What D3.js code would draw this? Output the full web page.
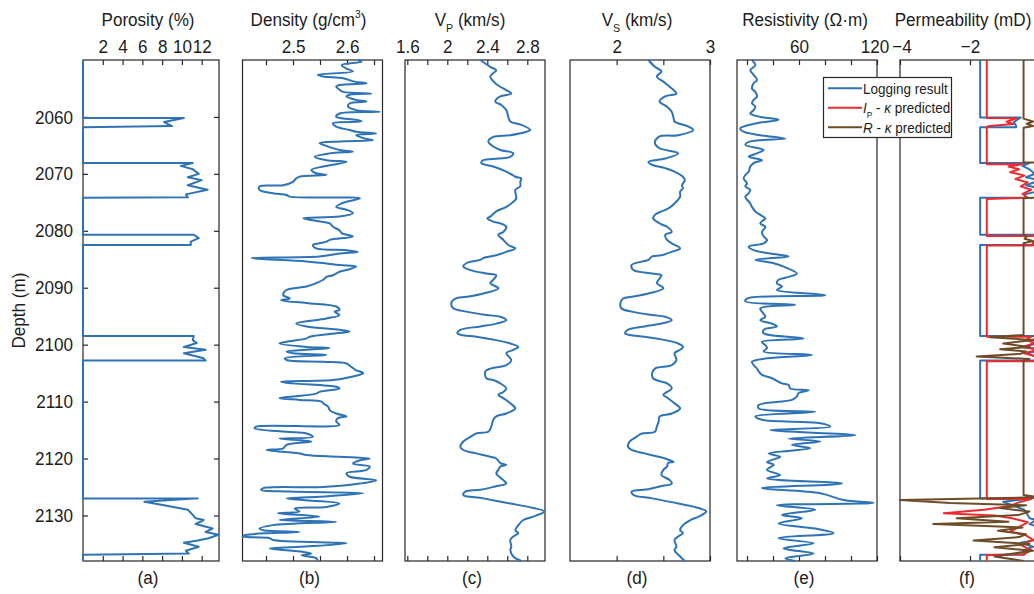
<!DOCTYPE html>
<html><head><meta charset="utf-8">
<script src="https://cdn.jsdelivr.net/npm/d3@7"></script>
<style>body{margin:0;background:#fff}svg{display:block}</style>
</head><body><script>
// ---------- well-log data: [depth (m), value] ----------
const depthRange = [2050, 2138];
const depthTicks = [2060, 2070, 2080, 2090, 2100, 2110, 2120, 2130];

const porosity = [
 [2050.0,0],[2060.2,0],[2060.2,10.2],[2060.9,8.2],[2061.6,9.0],[2061.8,0],
 [2068.1,0],[2068.1,11.1],[2068.6,9.9],[2069.2,11.1],[2070.0,11.7],[2070.6,10.6],[2071.1,12.0],[2072.0,10.6],[2072.8,12.6],[2073.6,10.4],[2074.1,10.6],[2074.2,0],
 [2080.7,0],[2080.7,11.2],[2081.3,11.7],[2081.9,10.9],[2082.5,10.9],[2082.5,0],
 [2098.5,0],[2098.5,11.2],[2099.2,11.1],[2099.7,11.5],[2100.4,10.2],[2100.9,12.4],[2101.5,10.2],[2102.4,12.2],[2102.8,12.4],[2102.8,0],
 [2127.0,0],[2127.0,11.6],[2127.6,6.2],[2128.2,8.2],[2129.0,10.6],[2129.9,11.1],[2130.5,11.4],[2130.8,12.2],[2131.5,11.4],[2132.3,13.1],[2132.9,12.4],[2133.4,13.7],[2134.0,12.7],[2134.4,11.6],[2134.8,10.2],[2135.5,11.7],[2136.2,10.4],[2136.7,10.7],[2136.9,0],
 [2138.0,0]
];

const density = [
 [2050.0,2.620],[2050.3,2.627],[2050.9,2.590],[2051.5,2.599],[2052.0,2.611],[2052.6,2.546],[2052.9,2.556],[2053.2,2.593],[2053.8,2.614],[2054.1,2.636],
 [2054.4,2.586],[2054.7,2.580],[2055.2,2.586],[2055.6,2.593],[2055.9,2.645],[2056.1,2.605],[2056.4,2.599],[2057.0,2.617],[2057.3,2.636],[2057.6,2.605],
 [2058.2,2.602],[2058.8,2.617],[2059.1,2.661],[2059.4,2.586],[2060.0,2.580],[2060.5,2.617],[2060.8,2.627],[2061.1,2.574],[2061.7,2.580],[2062.3,2.605],
 [2062.6,2.617],[2062.9,2.654],[2063.2,2.617],[2063.8,2.633],[2064.1,2.648],[2064.3,2.586],[2064.6,2.549],[2065.2,2.565],[2065.8,2.586],[2066.1,2.611],
 [2066.4,2.568],[2067.0,2.540],[2067.6,2.562],[2067.9,2.599],[2068.4,2.574],[2068.7,2.556],[2069.3,2.534],[2069.9,2.543],[2070.2,2.562],[2070.5,2.512],
 [2070.8,2.506],[2071.4,2.500],[2072.0,2.482],[2072.2,2.438],[2072.8,2.438],[2073.4,2.463],[2073.7,2.488],[2074.0,2.494],[2074.3,2.624],[2074.9,2.599],
 [2075.2,2.590],[2075.8,2.580],[2076.3,2.599],[2076.9,2.611],[2077.5,2.586],[2077.8,2.519],[2078.4,2.553],[2078.7,2.568],[2079.3,2.574],[2079.9,2.586],
 [2080.4,2.590],[2081.0,2.611],[2081.6,2.568],[2081.9,2.562],[2082.2,2.549],[2082.5,2.537],[2083.1,2.543],[2083.4,2.599],[2083.7,2.620],[2084.0,2.586],
 [2084.5,2.549],[2084.8,2.423],[2085.4,2.525],[2086.0,2.586],[2086.3,2.617],[2086.9,2.599],[2087.2,2.586],[2087.8,2.574],[2088.1,2.562],[2088.6,2.556],
 [2089.2,2.543],[2089.8,2.525],[2090.4,2.488],[2091.3,2.482],[2091.9,2.494],[2092.2,2.478],[2092.7,2.525],[2093.3,2.580],[2093.9,2.586],[2094.2,2.577],
 [2094.8,2.586],[2095.4,2.562],[2096.3,2.506],[2096.8,2.525],[2097.4,2.586],[2097.7,2.605],[2098.0,2.580],[2098.6,2.531],[2098.9,2.525],[2099.5,2.488],
 [2099.8,2.475],[2100.4,2.525],[2100.6,2.568],[2100.9,2.525],[2101.2,2.488],[2101.5,2.500],[2101.8,2.562],[2102.4,2.485],[2102.7,2.488],[2103.0,2.556],
 [2103.3,2.599],[2103.9,2.608],[2104.5,2.617],[2105.0,2.630],[2105.6,2.611],[2106.2,2.574],[2106.5,2.478],[2106.8,2.500],[2107.4,2.580],[2107.7,2.586],
 [2108.3,2.549],[2108.6,2.543],[2109.1,2.500],[2109.4,2.475],[2109.7,2.512],[2110.0,2.553],[2110.3,2.556],[2110.9,2.565],[2111.5,2.568],[2112.1,2.580],
 [2112.6,2.599],[2112.9,2.583],[2113.5,2.580],[2114.1,2.586],[2114.4,2.432],[2114.7,2.429],[2115.3,2.488],[2115.6,2.525],[2116.2,2.537],[2116.5,2.475],
 [2117.0,2.534],[2117.6,2.488],[2118.2,2.482],[2118.5,2.451],[2119.1,2.512],[2119.4,2.525],[2119.7,2.586],[2120.0,2.642],[2120.3,2.624],[2120.9,2.611],
 [2121.4,2.642],[2122.0,2.636],[2122.6,2.599],[2123.2,2.605],[2123.8,2.654],[2124.4,2.624],[2125.0,2.556],[2125.2,2.445],[2125.5,2.441],[2125.8,2.494],
 [2126.1,2.630],[2126.7,2.549],[2127.0,2.488],[2127.3,2.519],[2127.9,2.586],[2128.5,2.562],[2128.8,2.503],[2129.3,2.512],[2129.6,2.472],[2130.2,2.549],
 [2130.8,2.475],[2131.1,2.580],[2131.7,2.463],[2132.3,2.438],[2132.6,2.445],[2132.9,2.512],[2133.4,2.414],[2133.7,2.407],[2134.0,2.457],[2134.3,2.463],
 [2134.9,2.599],[2135.5,2.512],[2135.8,2.457],[2136.4,2.519],[2136.7,2.534],[2137.0,2.516],[2137.5,2.543],[2138.0,2.546]
];

const vp = [
 [2050.0,2.33],[2051.2,2.43],[2051.8,2.49],[2052.3,2.46],[2052.9,2.43],[2054.1,2.48],[2054.7,2.53],[2055.3,2.59],[2055.9,2.64],[2056.4,2.53],
 [2057.3,2.48],[2057.9,2.54],[2058.8,2.59],[2060.0,2.61],[2060.8,2.63],[2061.4,2.74],[2062.3,2.83],[2062.6,2.79],[2063.2,2.63],[2063.5,2.46],
 [2064.3,2.41],[2065.2,2.46],[2065.8,2.53],[2066.4,2.66],[2067.0,2.63],[2067.3,2.51],[2067.6,2.36],[2068.1,2.34],[2068.7,2.46],[2069.6,2.59],
 [2070.5,2.68],[2070.8,2.74],[2071.4,2.73],[2072.2,2.73],[2072.8,2.68],[2074.3,2.69],[2074.9,2.66],[2075.8,2.59],[2076.6,2.49],[2077.5,2.43],
 [2077.8,2.40],[2078.4,2.46],[2078.7,2.53],[2079.3,2.59],[2080.2,2.56],[2080.7,2.51],[2081.6,2.56],[2082.5,2.61],[2083.1,2.68],[2083.7,2.59],
 [2084.3,2.49],[2084.8,2.36],[2085.1,2.33],[2085.7,2.19],[2086.3,2.16],[2086.9,2.23],[2087.5,2.39],[2087.8,2.49],[2088.6,2.46],[2089.2,2.43],
 [2090.1,2.51],[2091.0,2.36],[2091.6,2.19],[2091.9,2.08],[2092.7,2.04],[2093.6,2.06],[2094.2,2.19],[2094.8,2.39],[2095.1,2.53],[2095.7,2.59],
 [2096.3,2.49],[2096.8,2.33],[2097.4,2.13],[2098.0,2.10],[2098.3,2.14],[2098.6,2.29],[2099.2,2.49],[2099.8,2.63],[2100.4,2.71],[2100.9,2.66],
 [2101.5,2.59],[2102.7,2.64],[2103.6,2.59],[2104.2,2.43],[2104.7,2.38],[2105.9,2.39],[2106.2,2.46],[2106.8,2.53],[2107.7,2.59],[2108.3,2.56],
 [2108.8,2.51],[2109.4,2.56],[2110.3,2.63],[2111.2,2.68],[2112.1,2.59],[2112.6,2.49],[2113.2,2.46],[2114.4,2.44],[2115.3,2.41],[2115.6,2.29],
 [2116.2,2.23],[2117.0,2.16],[2117.9,2.13],[2118.5,2.16],[2119.1,2.29],[2119.7,2.43],[2120.0,2.49],[2120.8,2.53],[2121.1,2.59],[2121.4,2.53],
 [2122.0,2.51],[2122.6,2.49],[2123.8,2.56],[2124.4,2.59],[2124.9,2.48],[2125.5,2.33],[2125.8,2.18],[2126.4,2.16],[2127.0,2.36],[2127.9,2.63],
 [2128.7,2.86],[2129.3,2.97],[2130.2,2.86],[2130.8,2.76],[2131.7,2.71],[2132.6,2.68],[2133.1,2.71],[2133.7,2.66],[2134.3,2.63],[2135.5,2.64],
 [2136.1,2.63],[2137.2,2.66],[2138.0,2.74]
];

const vs = [
 [2050.0,2.34],[2051.2,2.41],[2052.0,2.48],[2052.9,2.43],[2053.8,2.50],[2055.0,2.59],[2055.9,2.64],[2056.4,2.52],[2057.3,2.46],[2058.2,2.54],
 [2059.1,2.59],[2060.2,2.61],[2060.8,2.62],[2061.7,2.77],[2062.3,2.82],[2063.2,2.66],[2063.5,2.45],[2064.6,2.41],[2065.5,2.46],[2066.4,2.66],
 [2067.3,2.52],[2067.9,2.34],[2068.4,2.38],[2069.0,2.52],[2069.6,2.62],[2070.5,2.71],[2071.1,2.73],[2072.0,2.70],[2072.5,2.71],[2073.1,2.68],
 [2074.0,2.68],[2075.2,2.62],[2076.1,2.55],[2076.6,2.48],[2077.2,2.41],[2077.8,2.39],[2078.7,2.46],[2079.3,2.54],[2080.2,2.59],[2080.7,2.52],
 [2081.6,2.54],[2082.2,2.59],[2083.1,2.68],[2083.7,2.59],[2084.3,2.48],[2084.5,2.38],[2085.1,2.34],[2086.0,2.16],[2086.9,2.18],[2087.5,2.38],
 [2087.8,2.48],[2088.6,2.45],[2089.2,2.43],[2090.1,2.50],[2091.0,2.34],[2091.6,2.16],[2091.9,2.07],[2092.7,2.04],[2093.6,2.05],[2094.2,2.16],
 [2094.8,2.38],[2095.1,2.52],[2095.7,2.59],[2096.3,2.48],[2096.8,2.30],[2097.4,2.12],[2098.0,2.09],[2098.3,2.14],[2098.6,2.30],[2099.2,2.52],
 [2099.8,2.66],[2100.4,2.71],[2100.9,2.68],[2101.5,2.62],[2102.7,2.64],[2103.6,2.59],[2104.2,2.41],[2105.0,2.38],[2105.9,2.39],[2106.5,2.48],
 [2106.8,2.54],[2107.7,2.59],[2108.3,2.54],[2108.8,2.50],[2109.4,2.55],[2110.3,2.62],[2111.2,2.68],[2112.1,2.59],[2112.6,2.46],[2113.5,2.45],
 [2114.4,2.43],[2115.3,2.41],[2115.6,2.27],[2116.2,2.21],[2117.0,2.14],[2117.9,2.12],[2118.5,2.16],[2119.1,2.30],[2119.7,2.45],[2120.0,2.52],
 [2120.6,2.61],[2120.8,2.55],[2121.4,2.54],[2122.0,2.50],[2122.9,2.48],[2123.8,2.57],[2124.4,2.59],[2124.9,2.46],[2125.4,2.34],[2125.8,2.16],
 [2126.4,2.18],[2127.0,2.38],[2127.9,2.66],[2128.7,2.88],[2129.3,2.96],[2130.2,2.88],[2130.8,2.79],[2131.7,2.71],[2132.6,2.68],[2133.1,2.71],
 [2133.7,2.66],[2134.3,2.62],[2135.5,2.64],[2136.1,2.62],[2137.2,2.68],[2138.0,2.73]
];

const resistivity = [
 [2050.0,23.8],[2050.9,26.4],[2051.8,22.5],[2052.6,25.1],[2053.5,27.7],[2054.1,25.1],[2055.0,23.8],[2055.6,26.4],[2056.4,27.7],[2057.0,25.1],
 [2057.6,23.8],[2058.2,26.4],[2058.8,25.1],[2059.4,22.5],[2060.0,30.2],[2060.5,44.3],[2061.1,27.7],[2062.0,14.8],[2062.6,17.4],[2063.2,30.2],
 [2063.8,49.5],[2064.3,22.5],[2064.9,18.7],[2065.8,32.8],[2066.4,27.7],[2067.0,21.3],[2067.6,31.5],[2068.1,25.1],[2068.7,22.5],[2069.6,21.3],
 [2070.2,18.7],[2070.8,17.4],[2071.7,20.0],[2072.2,18.7],[2072.8,22.5],[2073.4,21.3],[2074.0,18.7],[2075.2,22.5],[2075.8,23.8],[2076.6,26.4],
 [2077.2,30.2],[2077.8,34.1],[2078.1,32.8],[2078.7,30.2],[2079.3,34.1],[2080.2,31.5],[2081.0,32.8],[2081.6,35.4],[2082.2,32.8],[2082.8,21.3],
 [2083.4,25.1],[2084.0,37.9],[2084.5,52.0],[2085.1,26.4],[2085.7,40.5],[2086.3,48.2],[2087.5,58.4],[2088.1,52.0],[2088.6,44.3],[2089.2,43.0],
 [2089.8,46.9],[2090.4,43.0],[2091.3,80.2],[2091.9,20.0],[2092.4,18.7],[2093.0,57.1],[2093.6,30.2],[2094.2,31.5],[2095.1,34.1],[2095.7,30.2],
 [2096.3,39.2],[2096.8,43.0],[2097.4,32.8],[2098.0,32.8],[2098.9,63.6],[2099.5,31.5],[2100.1,34.1],[2100.6,35.4],[2101.2,32.8],[2101.8,70.0],
 [2102.4,35.4],[2103.0,23.8],[2103.6,25.1],[2104.2,27.7],[2104.7,29.0],[2105.3,31.5],[2105.9,39.2],[2106.8,46.9],[2107.1,52.0],[2107.7,53.3],
 [2108.0,67.4],[2108.5,59.7],[2109.1,58.4],[2109.7,54.6],[2110.6,29.0],[2111.2,29.0],[2111.8,72.5],[2112.6,26.4],[2113.2,31.5],[2113.8,76.4],
 [2114.4,84.1],[2115.0,37.9],[2115.9,103.3],[2116.5,52.0],[2117.0,76.4],[2117.6,54.6],[2118.2,68.7],[2119.1,36.6],[2119.7,45.6],[2120.6,35.4],
 [2121.1,40.5],[2122.0,35.4],[2122.9,45.6],[2123.5,35.4],[2124.4,93.1],[2125.2,31.5],[2126.1,76.4],[2127.3,94.3],[2127.8,117.4],[2128.2,43.0],
 [2129.0,72.5],[2129.9,46.9],[2130.5,62.3],[2131.4,44.3],[2132.3,72.5],[2133.1,86.6],[2134.0,44.3],[2134.9,71.3],[2135.8,48.2],[2136.7,71.3],
 [2137.5,49.5],[2138.0,57.1]
];

// log10 permeability (mD): measured, impedance-predicted, resistivity-predicted
const permLog = [
 [2050.0,-1.71],[2060.1,-1.71],[2060.1,-0.55],[2060.9,-0.75],[2061.6,-0.68],[2061.8,-0.68],[2061.8,-1.71],
 [2068.1,-1.71],[2068.1,-0.3],[2068.6,-0.5],[2069.2,-0.3],[2070.0,-0.15],[2070.6,-0.4],[2071.1,0.0],[2072.0,-0.4],[2072.8,0.15],[2073.6,-0.45],[2074.1,-0.4],[2074.2,-0.4],[2074.2,-1.71],
 [2080.7,-1.71],[2080.7,-0.1],[2081.3,0.1],[2081.9,-0.15],[2082.5,-0.15],[2082.5,-1.71],
 [2098.5,-1.71],[2098.5,-0.1],[2099.2,-0.2],[2099.7,-0.05],[2100.4,-0.45],[2100.9,0.1],[2101.5,-0.4],[2102.4,0.05],[2102.8,0.1],[2102.8,-1.71],
 [2127.0,-1.71],[2127.0,-0.2],[2127.6,-1.05],[2128.2,-0.8],[2129.0,-0.45],[2129.9,-0.35],[2130.5,-0.3],[2130.8,-0.1],[2131.5,-0.3],[2132.3,0.1],
 [2132.9,-0.1],[2133.4,0.3],[2134.0,0.0],[2134.4,-0.2],[2134.8,-0.55],[2135.5,-0.2],[2136.2,-0.5],[2136.7,-0.45],[2136.9,-0.45],[2136.9,-1.71],[2138.0,-1.71]
];
const permIp = [
 [2050.0,-1.52],[2060.2,-1.52],[2060.24,-0.67],[2060.84,-0.95],[2061.24,-0.76],[2061.6,-1.43],[2061.7,-1.52],
 [2068.3,-1.52],[2068.3,-0.5],[2068.7,-0.9],[2069.2,-0.6],[2069.7,-0.85],[2070.3,-0.45],[2070.9,-0.7],[2071.5,-0.35],[2072.2,-0.55],[2072.8,-0.25],[2073.5,-0.5],[2074.2,-0.35],[2074.4,-1.52],
 [2080.9,-1.52],[2080.9,-0.1],[2081.4,0.1],[2082.0,-0.2],[2082.6,-0.2],[2082.6,-1.52],
 [2098.6,-1.52],[2098.6,-0.25],[2099.2,-0.4],[2099.7,-0.15],[2100.4,-0.5],[2100.9,-0.05],[2101.5,-0.45],[2102.4,0.05],[2102.9,0.0],[2102.9,-1.52],
 [2127.1,-1.52],[2127.1,-0.25],[2127.7,-0.6],[2128.4,-0.9],[2129.0,-1.6],[2129.6,-2.75],[2130.0,-1.3],[2130.5,-0.8],[2131.2,-0.35],[2132.0,-0.6],
 [2132.8,-0.85],[2133.5,-0.4],[2134.3,-0.2],[2135.2,-0.55],[2136.1,-0.25],[2136.8,-0.45],[2137.0,-1.52],[2138.0,-1.52]
];
const permR = [
 [2050.0,-0.47],[2060.3,-0.47],[2060.8,-0.2],[2061.2,-0.38],[2061.6,-0.2],[2061.9,-0.47],
 [2068.0,-0.47],[2068.0,-0.1],[2069.0,0.0],[2070.0,0.1],[2071.0,-0.1],[2072.0,0.2],[2073.0,0.0],[2074.1,0.1],[2074.3,-0.47],
 [2080.6,-0.47],[2081.0,-0.38],[2081.4,-0.44],[2081.8,-0.2],[2082.2,-0.47],
 [2098.3,-0.47],[2098.7,-1.43],[2099.2,-0.2],[2099.8,-1.05],[2100.4,-0.3],[2100.8,-1.14],[2101.2,-0.4],[2101.6,-0.55],[2102.1,-1.81],[2102.5,-0.3],[2102.8,-0.47],
 [2126.4,-0.47],[2126.8,0.0],[2127.3,-4.0],[2127.8,-2.57],[2128.2,-0.4],[2128.7,-1.14],[2129.3,-0.3],[2129.9,-0.6],[2130.5,-2.38],[2131.1,-0.9],
 [2131.5,-3.05],[2132.1,-0.5],[2132.7,-1.2],[2133.3,-0.4],[2133.8,-0.6],[2134.4,-1.9],[2135.0,-0.3],[2135.6,-1.3],[2136.2,-0.2],[2136.8,-0.9],
 [2137.2,-1.3],[2138.0,-0.47]
];

// ---------- axis ranges and tick labels ----------
const porosityDomain = [0, 13.75];
const porosityTicks = [2, 4, 6, 8, 10, 12];
const porosityLabels = ["2", "4", "6", "8", "10", "12"];
const densityDomain = [2.4065, 2.6657];
const densityTicks = [2.45, 2.5, 2.55, 2.6, 2.65];
const densityLabels = ["", "2.5", "", "2.6", ""];
const vpDomain = [1.577, 2.977];
const vpTicks = [1.6, 1.8, 2.0, 2.2, 2.4, 2.6, 2.8];
const vpLabels = ["1.6", "", "2", "", "2.4", "", "2.8"];
const vsDomain = [1.5, 3.0];
const vsTicks = [2, 2.5, 3];
const vsLabels = ["2", "", "3"];
const resDomain = [12.3, 120];
const resTicks = [20, 40, 60, 80, 100, 120];
const resLabels = ["", "", "60", "", "", "120"];
const permDomain = [-4, 0];
const permTicks = [-4, -2, 0];
const permLabels = ["\u22124", "\u22122", "0"];
const panelLetters = ["(a)", "(b)", "(c)", "(d)", "(e)", "(f)"];
const legendNames = ["Logging result", "predicted"];

// ---------- drawing ----------
const W = 1034, H = 594, TOP = 60, BOTTOM = 561;
const SX = 0.9;                        // condensed lettering
const FONT = "'Liberation Sans', Arial, Helvetica, sans-serif";
const INK = "#262626", TXT = "#1c1c1c";
const BLUE = "#2e73b5", RED = "#ef2a2e", BROWN = "#6e4c27";
const LW = 2;

const svg = d3.select("body").append("svg").attr("width", W).attr("height", H)
  .style("font-family", FONT);

const y = d3.scaleLinear().domain(depthRange).range([TOP, BOTTOM]);

function richText(parent, x, yb, parts, size, anchor, extra) {
  const t = parent.append("text")
    .attr("transform", `translate(${x},${yb}) ${extra || ""} scale(${SX},1)`)
    .attr("text-anchor", anchor).attr("fill", TXT)
    .style("font-size", size + "px");
  let shift = 0;
  parts.forEach(p => {
    let target = 0, fs = size;
    if (p.sub) { target = size * 0.34; fs = size * 0.62; }
    if (p.sup) { target = -size * 0.4; fs = size * 0.6; }
    const ts = t.append("tspan").text(p.t).attr("dy", target - shift).style("font-size", fs + "px");
    if (p.it) ts.style("font-style", "italic");
    shift = target;
  });
  return t;
}

function styleAxis(g) {
  g.select(".domain").remove();
  g.selectAll(".tick line").attr("stroke", INK).attr("stroke-width", 1.2);
  g.selectAll(".tick text").attr("fill", TXT).style("font-size", "19px")
    .style("font-family", FONT).attr("transform", `scale(${SX},1)`);
}

const smooth = d3.curveCatmullRom.alpha(0.5);

// nudge (px) for the end labels that would otherwise touch across the gap
const panels = [
  { x0: 83,    x1: 219,   domain: porosityDomain, ticks: porosityTicks, labels: porosityLabels,
    title: [{ t: "Porosity (%)" }], dx: -3,
    series: [{ data: porosity, color: BLUE, curve: d3.curveLinear }] },
  { x0: 242.5, x1: 382.5, domain: densityDomain, ticks: densityTicks, labels: densityLabels,
    title: [{ t: "Density (g/cm" }, { t: "3", sup: true }, { t: ")" }], dx: -4,
    series: [{ data: density, color: BLUE, curve: smooth }] },
  { x0: 405,   x1: 545,   domain: vpDomain, ticks: vpTicks, labels: vpLabels,
    title: [{ t: "V" }, { t: "P", sub: true }, { t: " (km/s)" }], dx: -5,
    series: [{ data: vp, color: BLUE, curve: smooth }] },
  { x0: 570,   x1: 710,   domain: vsDomain, ticks: vsTicks, labels: vsLabels,
    title: [{ t: "V" }, { t: "S", sub: true }, { t: " (km/s)" }], dx: -3,
    series: [{ data: vs, color: BLUE, curve: smooth }] },
  { x0: 737,   x1: 877,   domain: resDomain, ticks: resTicks, labels: resLabels,
    title: [{ t: "Resistivity (\u03A9\u00B7m)" }], dx: -2, lastNudge: -2.5,
    series: [{ data: resistivity, color: BLUE, curve: smooth }] },
  { x0: 900,   x1: 1040,  domain: permDomain, ticks: permTicks, labels: permLabels, clip: true,
    title: [{ t: "Permeability (mD)" }], dx: -7, firstNudge: 1.5,
    series: [{ data: permLog, color: BLUE, curve: d3.curveLinear },
             { data: permIp, color: RED, curve: d3.curveLinear },
             { data: permR, color: BROWN, curve: d3.curveLinear }] }
];

panels.forEach((p, i) => {
  const x = d3.scaleLinear().domain(p.domain).range([p.x0, p.x1]);
  const g = svg.append("g");

  g.append("rect").attr("x", p.x0).attr("y", TOP)
    .attr("width", p.x1 - p.x0).attr("height", BOTTOM - TOP)
    .attr("fill", "none").attr("stroke", INK).attr("stroke-width", 1.2);

  const fmt = v => p.labels[p.ticks.indexOf(v)];
  const topAxis = g.append("g").attr("transform", `translate(0,${TOP})`)
    .call(d3.axisTop(x).tickValues(p.ticks).tickSize(-5).tickPadding(6.7).tickFormat(fmt));
  styleAxis(topAxis);
  const tickTexts = topAxis.selectAll(".tick text");
  if (p.lastNudge) tickTexts.filter((d, k, n) => k === n.length - 1).attr("x", p.lastNudge / SX);
  if (p.firstNudge) tickTexts.filter((d, k) => k === 0).attr("x", p.firstNudge / SX);

  styleAxis(g.append("g").attr("transform", `translate(0,${BOTTOM})`)
    .call(d3.axisBottom(x).tickValues(p.ticks).tickSize(-5).tickFormat("")));

  if (i === 0) {
    const left = g.append("g").attr("transform", `translate(${p.x0},0)`)
      .call(d3.axisLeft(y).tickValues(depthTicks).tickSize(-5).tickPadding(10).tickFormat(d3.format("d")));
    styleAxis(left);
    left.selectAll(".tick text").attr("x", -10 / SX);
    styleAxis(g.append("g").attr("transform", `translate(${p.x1},0)`)
      .call(d3.axisRight(y).tickValues(depthTicks).tickSize(-5).tickFormat("")));
    richText(svg, 25, (TOP + BOTTOM) / 2, [{ t: "Depth (m)" }], 19, "middle", "rotate(-90)");
  }

  let plot = g;
  if (p.clip) {
    svg.append("clipPath").attr("id", "clip" + i).append("rect")
      .attr("x", p.x0 - 2).attr("y", TOP).attr("width", p.x1 - p.x0 + 2).attr("height", BOTTOM - TOP);
    plot = g.append("g").attr("clip-path", `url(#clip${i})`);
  }
  p.series.forEach(s => {
    const line = d3.line().x(d => x(d[1])).y(d => y(d[0])).curve(s.curve);
    plot.append("path").datum(s.data).attr("d", line)
      .attr("fill", "none").attr("stroke", s.color).attr("stroke-width", LW)
      .attr("stroke-linejoin", "round");
  });

  const cx = (p.x0 + p.x1) / 2;
  richText(svg, cx + p.dx, 26, p.title, 19, "middle");
  richText(svg, cx - 3, 584, [{ t: panelLetters[i] }], 19, "middle");
});

// legend
const legend = svg.append("g");
legend.append("rect").attr("x", 823.5).attr("y", 77.5).attr("width", 128).attr("height", 60)
  .attr("fill", "#fff").attr("stroke", INK).attr("stroke-width", 1.2);
const legendRows = [
  { color: BLUE,  parts: [{ t: legendNames[0] }] },
  { color: RED,   parts: [{ t: "I", it: true }, { t: "P", sub: true }, { t: " - " }, { t: "\u03BA", it: true }, { t: " " + legendNames[1] }] },
  { color: BROWN, parts: [{ t: "R", it: true }, { t: " - " }, { t: "\u03BA", it: true }, { t: " " + legendNames[1] }] }
];
legendRows.forEach((r, k) => {
  const cy = 88.3 + k * 19.5;
  legend.append("line").attr("x1", 828).attr("x2", 862).attr("y1", cy).attr("y2", cy)
    .attr("stroke", r.color).attr("stroke-width", LW);
  richText(legend, 863, cy + 5.2, r.parts, 15, "start");
});
</script></body></html>
